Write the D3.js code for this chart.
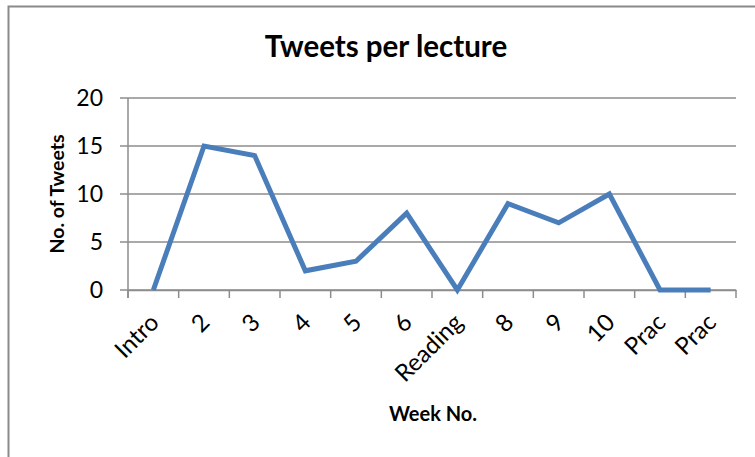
<!DOCTYPE html>
<html>
<head>
<meta charset="utf-8">
<script src="https://cdn.jsdelivr.net/npm/d3@7"></script>
<style>
  body { margin: 0; background: #fff; }
  svg { display: block; font-family: Lato, "Open Sans", sans-serif; }
</style>
</head>
<body>
<svg id="chart" width="755" height="457"></svg>
<script>
// chart data
const weeks = ["Intro", "2", "3", "4", "5", "6", "Reading", "8", "9", "10", "Prac", "Prac"];
const tweets = [0, 15, 14, 2, 3, 8, 0, 9, 7, 10, 0, 0];
const yTicks = [0, 5, 10, 15, 20];

const svg = d3.select("#chart");
const margin = {left: 128, top: 98, right: 19, bottom: 167};
const width = 755 - margin.left - margin.right;
const height = 457 - margin.top - margin.bottom;

// chart border (top and left visible)
svg.append("path")
  .attr("d", "M8.5,457 L8.5,6.5 L755,6.5")
  .attr("fill", "none")
  .attr("stroke", "#8a8a8a")
  .attr("stroke-width", 2);

const g = svg.append("g").attr("transform", `translate(${margin.left},${margin.top})`);

// index-based band scale so duplicate labels stay separate
let xScale = d3.scaleBand()
  .domain(d3.range(weeks.length))
  .range([0, width]);

let yScale = d3.scaleLinear()
  .domain([0, 20])
  .range([height, 0]);

// gridlines
g.append("g")
  .selectAll("line")
  .data(yTicks)
  .join("line")
  .attr("x1", -8)
  .attr("x2", width)
  .attr("y1", d => yScale(d))
  .attr("y2", d => yScale(d))
  .attr("stroke", "#8c8c8c")
  .attr("stroke-width", 1.5);

// y axis
let leftAxis = d3.axisLeft(yScale).tickValues(yTicks).tickSize(0).tickPadding(25);
let yAxis = g.append("g").call(leftAxis);
yAxis.select(".domain").remove();
yAxis.selectAll("text")
  .attr("font-size", 23)
  .attr("fill", "#000")
  .attr("font-family", "Lato, sans-serif");

g.append("line")
  .attr("x1", 0).attr("x2", 0)
  .attr("y1", 0).attr("y2", height + 8)
  .attr("stroke", "#8c8c8c")
  .attr("stroke-width", 1.5);

// x axis
let bottomAxis = d3.axisBottom(xScale).tickSize(0).tickFormat(i => weeks[i]);
let xAxis = g.append("g")
  .attr("transform", `translate(0,${height})`)
  .call(bottomAxis);
xAxis.select(".domain")
  .attr("stroke", "#8c8c8c")
  .attr("stroke-width", 1.5);
xAxis.selectAll("text")
  .attr("font-size", 24)
  .attr("fill", "#000")
  .attr("font-family", "Lato, sans-serif")
  .attr("text-anchor", "end")
  .attr("y", 0)
  .attr("dy", 0)
  .attr("transform", "translate(7,34) rotate(-45)");

// tick marks on band boundaries
g.append("g")
  .selectAll("line")
  .data(d3.range(weeks.length + 1))
  .join("line")
  .attr("x1", i => i * xScale.step())
  .attr("x2", i => i * xScale.step())
  .attr("y1", height)
  .attr("y2", height + 8)
  .attr("stroke", "#8c8c8c")
  .attr("stroke-width", 1.5);

// line
const line = d3.line()
  .x((d, i) => xScale(i) + xScale.bandwidth() / 2)
  .y(d => yScale(d));

g.append("path")
  .datum(tweets)
  .attr("d", line)
  .attr("fill", "none")
  .attr("stroke", "#4a7ebb")
  .attr("stroke-width", 5)
  .attr("stroke-linejoin", "miter");

// titles
svg.append("text")
  .attr("x", 386).attr("y", 57)
  .attr("text-anchor", "middle")
  .attr("font-size", 29.5)
  .attr("font-weight", "bold")
  .text("Tweets per lecture");

svg.append("text")
  .attr("transform", `translate(64,${margin.top + height / 2}) rotate(-90)`)
  .attr("text-anchor", "middle")
  .attr("font-size", 19.5)
  .attr("font-weight", "bold")
  .text("No. of Tweets");

svg.append("text")
  .attr("x", margin.left + width / 2 + 1).attr("y", 421)
  .attr("text-anchor", "middle")
  .attr("font-size", 20)
  .attr("font-weight", "bold")
  .text("Week No.");
</script>
</body>
</html>
